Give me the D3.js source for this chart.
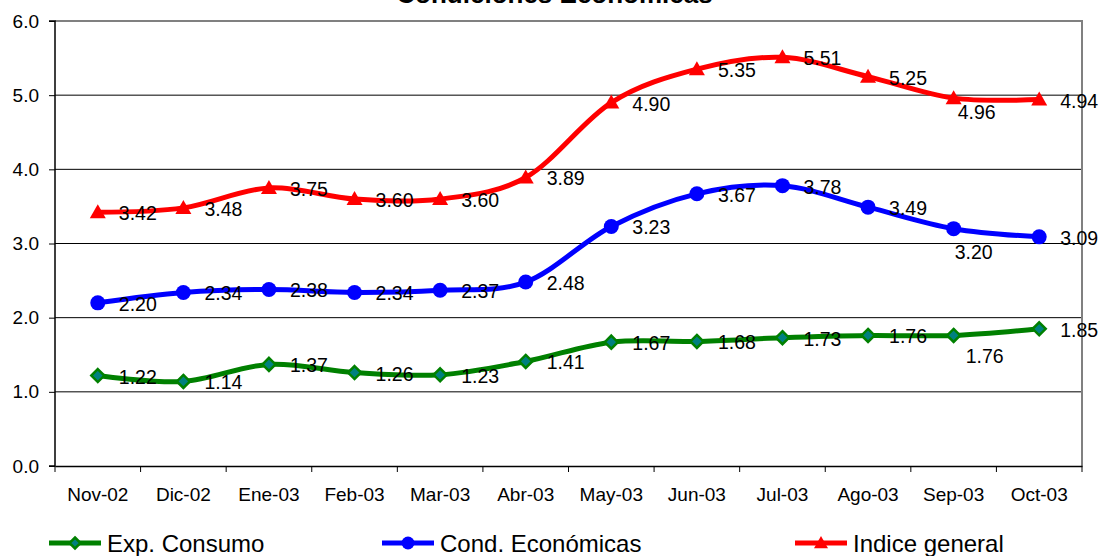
<!DOCTYPE html>
<html>
<head>
<meta charset="utf-8">
<script src="https://cdn.jsdelivr.net/npm/d3@7"></script>
<style>
    html, body { margin: 0; padding: 0; background: #fff; }
    svg { display: block; font-family: "Liberation Sans", Arial, sans-serif; }
</style>
</head>
<body>
<svg id="chart" width="1101" height="556"></svg>
<script>
// Data
const months = ['Nov-02', 'Dic-02', 'Ene-03', 'Feb-03', 'Mar-03', 'Abr-03',
                'May-03', 'Jun-03', 'Jul-03', 'Ago-03', 'Sep-03', 'Oct-03'];
const expConsumo = [1.22, 1.14, 1.37, 1.26, 1.23, 1.41, 1.67, 1.68, 1.73, 1.76, 1.76, 1.85];
const condEconomicas = [2.20, 2.34, 2.38, 2.34, 2.37, 2.48, 3.23, 3.67, 3.78, 3.49, 3.20, 3.09];
const indiceGeneral = [3.42, 3.48, 3.75, 3.60, 3.60, 3.89, 4.90, 5.35, 5.51, 5.25, 4.96, 4.94];
const yTicks = [0, 1, 2, 3, 4, 5, 6];
const seriesNames = ['Exp. Consumo', 'Cond. Económicas', 'Indice general'];

// Layout / style
const W = 1101, H = 556;
const MARGIN = { top: 21, right: 19, bottom: 90, left: 55 };
const COLORS = { exp: '#008000', expFill: '#008080', cond: '#0000ff', ind: '#ff0000', frame: '#808080' };

const series = [
    { name: seriesNames[0], values: expConsumo, color: COLORS.exp, marker: 'diamond',
      nudge: { 10: [12, 21] } },
    { name: seriesNames[1], values: condEconomicas, color: COLORS.cond, marker: 'circle',
      nudge: { 10: [1, 23] } },
    { name: seriesNames[2], values: indiceGeneral, color: COLORS.ind, marker: 'triangle',
      nudge: { 10: [4, 14] } }
];

const svg = d3.select('#chart');

const x = d3.scaleBand()
    .domain(months)
    .range([MARGIN.left, W - MARGIN.right])
    .padding(0);

const y = d3.scaleLinear()
    .domain([0, 6])
    .range([H - MARGIN.bottom, MARGIN.top]);

const cx = m => x(m) + x.bandwidth() / 2;

// Title (partly clipped at the top, as in the original)
svg.append('text')
    .attr('x', W / 2 + 4)
    .attr('y', 3)
    .attr('text-anchor', 'middle')
    .attr('font-size', 26)
    .attr('font-weight', 'bold')
    .text('Condiciones Económicas');

// Gridlines
svg.append('g')
    .selectAll('line')
    .data(yTicks.filter(d => d > 0 && d < 6))
    .enter()
    .append('line')
    .attr('x1', MARGIN.left)
    .attr('x2', W - MARGIN.right)
    .attr('y1', d => y(d))
    .attr('y2', d => y(d))
    .attr('stroke', '#000')
    .attr('stroke-width', 1);

// Frame: gray top and right
svg.append('path')
    .attr('d', `M${MARGIN.left},${y(6)}H${W - MARGIN.right}V${y(0)}`)
    .attr('fill', 'none')
    .attr('stroke', COLORS.frame)
    .attr('stroke-width', 2);

// Axes
const yAxis = svg.append('g')
    .attr('transform', `translate(${MARGIN.left},0)`)
    .call(d3.axisLeft(y).tickValues(yTicks).tickFormat(d3.format('.1f')).tickSize(6).tickPadding(10));

const xAxis = svg.append('g')
    .attr('transform', `translate(0,${y(0)})`)
    .call(d3.axisBottom(x).tickSize(0).tickPadding(22));

// band boundary tick marks
xAxis.selectAll('.bound')
    .data(d3.range(months.length + 1))
    .enter()
    .append('line')
    .attr('class', 'bound')
    .attr('x1', i => MARGIN.left + i * x.bandwidth())
    .attr('x2', i => MARGIN.left + i * x.bandwidth())
    .attr('y1', 0)
    .attr('y2', 6)
    .attr('stroke', '#000');

[yAxis, xAxis].forEach(g => {
    g.selectAll('.domain').attr('stroke', '#000').attr('stroke-width', 1.5);
    g.selectAll('.tick line').attr('stroke', '#000');
    g.selectAll('.tick text')
        .attr('font-size', 19)
        .attr('fill', '#000')
        .attr('font-family', '"Liberation Sans", Arial, sans-serif');
});
yAxis.select('.domain').attr('d', `M-6,${y(6)}H0V${y(0)}H-6`);

// Marker shapes, r is the half-width
function drawMarker(g, type, color, r) {
    if (type === 'circle') {
        g.append('circle').attr('r', r).attr('fill', color);
    } else if (type === 'triangle') {
        g.append('path')
            .attr('d', `M0,${-r}L${r},${r * 0.75}L${-r},${r * 0.75}Z`)
            .attr('fill', color);
    } else {
        g.append('path')
            .attr('d', `M0,${-r}L${r},0L0,${r}L${-r},0Z`)
            .attr('fill', COLORS.expFill)
            .attr('stroke', color)
            .attr('stroke-width', 2.5);
    }
}

const line = d3.line()
    .x((d, i) => cx(months[i]))
    .y(d => y(d))
    .curve(d3.curveCatmullRom.alpha(0));

// Lines
series.forEach(s => {
    svg.append('path')
        .datum(s.values)
        .attr('d', line)
        .attr('fill', 'none')
        .attr('stroke', s.color)
        .attr('stroke-width', 5)
        .attr('stroke-linejoin', 'round');
});

// Markers
const markerSize = { circle: 7.5, triangle: 8, diamond: 6.5 };
series.forEach(s => {
    s.values.forEach((v, i) => {
        const g = svg.append('g').attr('transform', `translate(${cx(months[i])},${y(v)})`);
        drawMarker(g, s.marker, s.color, markerSize[s.marker]);
    });
});

// Data labels
series.forEach(s => {
    svg.append('g')
        .selectAll('text')
        .data(s.values)
        .enter()
        .append('text')
        .attr('x', (d, i) => cx(months[i]) + (s.nudge[i] ? s.nudge[i][0] : 21))
        .attr('y', (d, i) => y(d) + (s.nudge[i] ? s.nudge[i][1] : 1) + 7)
        .attr('font-size', 19.5)
        .attr('fill', '#000')
        .text(d => d3.format('.2f')(d));
});

// Legend
const legendX = [49, 382, 795];
const legendY = 543;
series.forEach((s, i) => {
    const g = svg.append('g').attr('transform', `translate(${legendX[i]},${legendY})`);
    g.append('line')
        .attr('x1', 0).attr('x2', 52)
        .attr('stroke', s.color)
        .attr('stroke-width', 5);
    const m = g.append('g').attr('transform', 'translate(26,0)');
    drawMarker(m, s.marker, s.color, markerSize[s.marker] - 1);
    g.append('text')
        .attr('x', 58)
        .attr('y', 9)
        .attr('font-size', 24)
        .attr('fill', '#000')
        .text(s.name);
});
</script>
</body>
</html>
